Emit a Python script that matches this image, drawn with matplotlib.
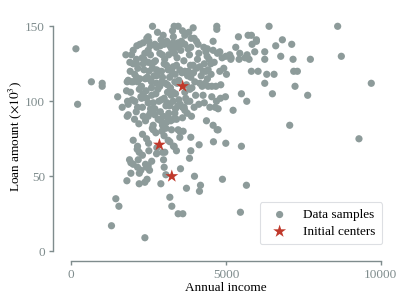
import matplotlib
matplotlib.use("Agg")
import matplotlib.pyplot as plt

# ───────────────────────────────
# data (income, loan amount x10^3)
income = [
    150, 205, 650, 1000, 1000, 1500, 1440, 1540, 1300, 2380,
    # top band
    2626, 3326, 3455, 3940, 4704, 4704, 6394, 8611, 2788, 2971,
    3272, 3595, 3670, 2486, 2443, 3875, 3972, 5404, 5716, 5823,
    5985, 5985, 6824, 3089, 3294, 3455, 3563, 4047, 4585, 2508, 2325,
    # 127-138
    2120, 2217, 1765, 1948, 2002, 2110, 2293, 2379, 2486, 2702,
    2756, 2863, 2939, 3003, 3100, 3186, 3240, 3337, 3401, 3520,
    3670, 3778, 3864, 4123, 4284, 4349, 4392, 4456, 4585, 4725,
    4801, 4876, 4995, 5124, 5167, 5317, 5447, 5683, 5748, 5845,
    5931, 6254, 6609, 6771, 7126, 7169, 7729, 8730, 6254,
    # 116-127
    1894, 2002, 2110, 2325, 2486, 2594, 2669, 2508, 2626, 2756,
    2842, 2917, 3003, 3079, 3132, 3240, 3294, 3401, 3509, 3670,
    3778, 3853, 3940, 4047, 4155, 4263, 4349, 4424, 4510, 4801,
    4930, 5016, 5156, 5425, 5619, 5823, 6039, 6319, 7190, 7309,
    1905, 2110, 2454, 2756,
    # 103-116
    1841, 1808, 2002, 2142, 2217, 2390, 2519, 2594, 2756, 2863,
    2928, 3046, 3111, 3208, 3348, 3423, 3477, 3724, 3864, 3993,
    4155, 4230, 4327, 4424, 4542, 4672, 4833, 6254, 6555, 7233,
    9698, 1787, 1916, 2250, 2325, 2594, 2734, 3111, 3294, 3369,
    3670, 3832, 5500, 6502, 7642,
    # 94-103
    1647, 1841, 1819, 1970, 2056, 2142, 2271, 2433, 2486, 2562,
    2648, 2702, 2831, 2917, 3003, 3100, 3186, 3294, 3369, 3520,
    3595, 3670, 3746, 3832, 3972, 4123, 4542, 4693, 4747, 4822,
    4984, 5231, 5673,
    # 80-92
    1808, 1841, 2045, 2185, 2325, 2486, 2648, 2809, 2896, 2971,
    3079, 3132, 3218, 3294, 3401, 3595, 3886, 4370, 4585, 4715,
    7061, 2949, 3057, 3240, 3455, 3509, 3617,
    # 70-80
    2002, 2303, 2433, 2734, 2928, 3186, 3326, 3509, 3864, 4133,
    4596, 4747, 4995, 2648, 3132, 9300,
    # 60-70
    2142, 2131, 2196, 2508, 2766, 2949, 3025, 3304, 3864, 2982,
    2756, 2164, 1884, 5500, 3821,
    # 50-60
    1927, 2002, 2142, 2250, 2400, 2433, 2486, 2530, 3003, 3531,
    3983, 3057,
    # 40-50
    1798, 1927, 2196, 2379, 2896, 4144, 4177, 4887, 5662, 3724,
    # low
    3186, 3250, 3455, 3606, 5468,
    # dense core
    2050, 2150, 2270, 2350, 2420, 2560, 2600, 2680, 2720, 2800,
    2880, 2950, 3020, 3060, 3150, 3180, 3230, 3300, 3360, 3420,
    3480, 3540, 3580, 3640, 3700, 3760, 3820, 3900, 3950, 4020,
    4080, 4200, 4260, 4300, 4400, 4480, 4520, 4620, 4650, 2100,
    2300, 2400, 2550, 2620, 2700, 2880, 3150, 3350, 3450, 3750,
    2500, 2600, 2300, 3400, 3000, 2450, 2200, 4400, 4100, 3800,
    2900, 2550, 2350, 2200, 1950, 3650, 4300,
]
loan = [
    135, 98, 113, 112, 110, 103, 35, 30, 17, 9,
    150, 150, 150, 149, 150, 148, 150, 150, 146, 144,
    147, 147, 144, 143, 142, 142, 142, 143, 144, 144,
    141, 140, 141, 140, 139, 139, 140, 140, 140, 140, 139,
    137, 138, 131, 131, 134, 128, 129, 132, 134, 138,
    136, 132, 131, 138, 139, 137, 135, 132, 136, 138,
    138, 135, 136, 132, 136, 133, 130, 128, 134, 132,
    133, 129, 130, 131, 129, 136, 132, 131, 128, 138,
    133, 133, 137, 130, 138, 128, 128, 130, 128,
    126, 125, 125, 125, 126, 125, 126, 120, 122, 121,
    120, 120, 125, 124, 121, 120, 123, 124, 121, 120,
    120, 124, 124, 122, 123, 120, 120, 121, 125, 120,
    122, 118, 128, 128, 129, 120, 120, 118, 120, 120,
    120, 116, 116, 117,
    114, 113, 113, 113, 115, 115, 115, 113, 112, 110,
    113, 112, 111, 109, 113, 112, 114, 111, 116, 113,
    112, 110, 112, 110, 110, 110, 111, 112, 118, 110,
    112, 107, 106, 103, 105, 109, 105, 106, 106, 105,
    106, 108, 105, 105, 104,
    96, 98, 100, 101, 100, 96, 102, 102, 99, 95,
    99, 95, 100, 101, 102, 99, 97, 100, 95, 98,
    96, 94, 100, 100, 96, 98, 103, 100, 95, 102,
    103, 94, 100,
    90, 91, 88, 85, 90, 90, 84, 88, 87, 90,
    86, 89, 87, 88, 88, 89, 90, 87, 84, 81,
    84, 84, 82, 81, 81, 80, 80,
    74, 78, 75, 79, 80, 73, 70, 76, 76, 71,
    73, 81, 72, 81, 74, 75,
    70, 68, 66, 67, 69, 66, 66, 70, 67, 61,
    65, 61, 61, 70, 62,
    59, 58, 56, 54, 58, 56, 57, 54, 56, 55,
    50, 51,
    47, 52, 45, 46, 45, 40, 44, 48, 44, 42,
    36, 30, 25, 25, 26,
    118, 122, 110, 128, 107, 131, 104, 117, 127, 108,
    137, 116, 128, 97, 131, 116, 104, 143, 118, 129,
    101, 134, 119, 127, 102, 117, 131, 109, 119, 104,
    128, 117, 104, 125, 115, 96, 118, 126, 96, 93,
    96, 87, 92, 82, 91, 93, 92, 92, 97, 92,
    72, 60, 64, 67, 77, 48, 52, 135, 138, 146,
    141, 137, 121, 108, 113, 96, 99,
]
centers_income = [3600, 2850, 3250]
centers_loan = [110, 71, 50]

GRIS = "#7f8c8d"

plt.rcParams["font.family"] = ["Liberation Serif", "DejaVu Serif"]
plt.rcParams["mathtext.fontset"] = "stix"
plt.rcParams["font.size"] = 9.5

fig = plt.figure(figsize=(4.07, 3.05), dpi=100)
ax = fig.add_axes([0.1523, 0.1748, 0.8057, 0.7537])

ax.scatter(income, loan, s=27, color="#8d9b9a", edgecolors="none", label="Data samples", zorder=2)
ax.scatter(centers_income, centers_loan, s=95, marker="*", color="#c0392b", edgecolors="none",
           label="Initial centers", zorder=3)

ax.set_xlim(-300, 10300)
ax.set_ylim(-0.3, 153)
ax.set_xticks([0, 5000, 10000])
ax.set_yticks([0, 50, 100, 150])

for lado in ["top", "right"]:
    ax.spines[lado].set_visible(False)
for lado in ["left", "bottom"]:
    ax.spines[lado].set_position(("outward", 6.7))
    ax.spines[lado].set_color(GRIS)
    ax.spines[lado].set_linewidth(1.0)
ax.spines["left"].set_bounds(0, 150)
ax.spines["bottom"].set_bounds(0, 10000)
ax.tick_params(colors=GRIS, labelcolor=GRIS, length=3, width=1.0, labelsize=9.5, pad=2.5)

ax.set_xlabel("Annual income", fontsize=9.5, labelpad=1)
ax.set_ylabel(r"Loan amount ($\times 10^3$)", fontsize=9.5, labelpad=1)

leg = ax.legend(loc="lower right", fontsize=9.5, frameon=True, fancybox=True,
                borderpad=0.5, labelspacing=0.35, handletextpad=0.8, borderaxespad=0.2,
                bbox_to_anchor=(0.985, 0.02))
leg.get_frame().set_edgecolor("#d5d8dc")
leg.get_frame().set_linewidth(0.8)

fig.savefig("out.png", dpi=100)
